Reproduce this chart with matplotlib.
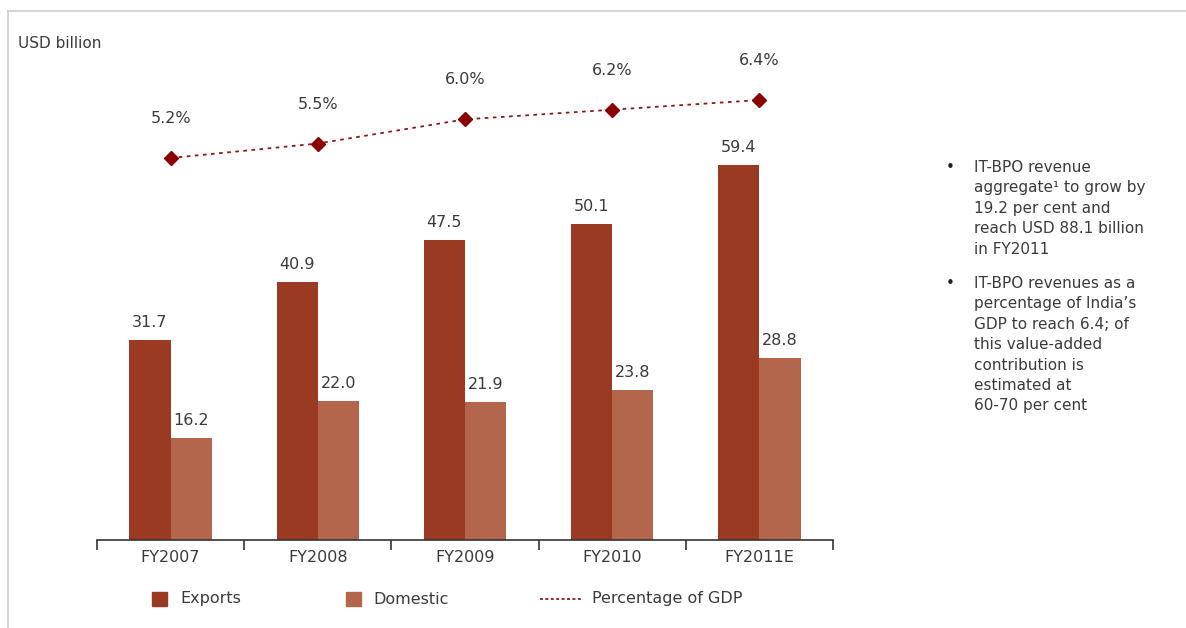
import matplotlib
matplotlib.use('Agg')
import matplotlib.pyplot as plt
from matplotlib.lines import Line2D
from matplotlib.patches import Rectangle
import numpy as np

plt.rcParams['font.family'] = ['DejaVu Sans']

# data
years = ['FY2007', 'FY2008', 'FY2009', 'FY2010', 'FY2011E']
exports = [31.7, 40.9, 47.5, 50.1, 59.4]
domestic = [16.2, 22.0, 21.9, 23.8, 28.8]
gdp_share = [5.2, 5.5, 6.0, 6.2, 6.4]

notes = [
    "IT-BPO revenue\naggregate\u00b9 to grow by\n19.2 per cent and\nreach USD 88.1 billion\nin FY2011",
    "IT-BPO revenues as a\npercentage of India\u2019s\nGDP to reach 6.4; of\nthis value-added\ncontribution is\nestimated at\n60-70 per cent",
]

c_exp = '#9b3a22'
c_dom = '#b3664b'
c_line = '#8b1a1a'
c_text = '#3a3a3a'

W, H = 1186, 628
fig = plt.figure(figsize=(W / 100, H / 100), dpi=100)


def fx(px):
    return px / W


def fy(py):
    return 1 - py / H


# axes placed in pixel terms: left 97, right 833, bottom 540, top 30
x0, x1, yb, yt = 97, 833, 540, 30
ax = fig.add_axes([fx(x0), fy(yb), (x1 - x0) / W, (yb - yt) / H])

x = np.arange(len(years))
bw = 0.28
ax.bar(x - bw / 2, exports, bw, color=c_exp, edgecolor='none')
ax.bar(x + bw / 2, domestic, bw, color=c_dom, edgecolor='none')

for i in range(len(years)):
    ax.text(x[i] - bw / 2, exports[i] + 1.6, f'{exports[i]:.1f}', ha='center',
            va='bottom', fontsize=11.5, color=c_text)
    ax.text(x[i] + bw / 2, domestic[i] + 1.6, f'{domestic[i]:.1f}', ha='center',
            va='bottom', fontsize=11.5, color=c_text)

ax.set_xlim(-0.5, len(years) - 0.5)
ax.set_ylim(0, (yb - yt) / 6.31)
ax.set_yticks([])
ax.set_xticks(np.arange(-0.5, len(years), 1.0))
ax.set_xticklabels([])
ax.set_xticks(x, minor=True)
ax.set_xticklabels(years, minor=True, fontsize=11.5, color=c_text)
ax.tick_params(axis='x', which='major', length=7, width=1.2, color='#333333', direction='out')
ax.tick_params(axis='x', which='minor', length=0, pad=7)
for s in ['top', 'right', 'left']:
    ax.spines[s].set_visible(False)
ax.spines['bottom'].set_color('#333333')
ax.spines['bottom'].set_linewidth(1.2)

# GDP share on a hidden secondary axis
ax2 = ax.twinx()
ppu = 48.3
lo = 5.2 - (yb - 158) / ppu
ax2.set_ylim(lo, lo + (yb - yt) / ppu)
ax2.plot(x, gdp_share, linestyle=(0, (2, 2.5)), color=c_line, linewidth=1.3,
         marker='D', markersize=7, markerfacecolor='#8b0000', markeredgecolor='#8b0000')
for i in range(len(years)):
    ax2.text(x[i], gdp_share[i] + 0.66, f'{gdp_share[i]:.1f}%', ha='center',
             va='bottom', fontsize=11.5, color=c_text)
ax2.set_yticks([])
for s in ax2.spines.values():
    s.set_visible(False)

fig.text(fx(18), fy(43), 'USD billion', fontsize=11, color=c_text, va='center')

# notes on the right
ny = [160, 276]
for t, yy in zip(notes, ny):
    fig.text(fx(946), fy(yy), '\u2022', fontsize=11, color='#222222', va='top')
    fig.text(fx(974), fy(yy), t, fontsize=11, color=c_text, va='top', linespacing=1.45)

# legend, laid out by hand to match the spacing of the original
ly = 599
fig.add_artist(Rectangle((fx(152), fy(ly + 7)), 15 / W, 14 / H, color=c_exp,
                         transform=fig.transFigure))
fig.text(fx(180), fy(ly), 'Exports', fontsize=11.5, color=c_text, va='center')
fig.add_artist(Rectangle((fx(346), fy(ly + 7)), 15 / W, 14 / H, color=c_dom,
                         transform=fig.transFigure))
fig.text(fx(373), fy(ly), 'Domestic', fontsize=11.5, color=c_text, va='center')
fig.add_artist(Line2D([fx(540), fx(581)], [fy(ly), fy(ly)], linestyle=(0, (1.6, 1.4)),
                      color=c_line, linewidth=1.3, transform=fig.transFigure))
fig.text(fx(592), fy(ly), 'Percentage of GDP', fontsize=11.5, color=c_text, va='center')

# light frame around the picture (top and left edges visible)
fig.add_artist(Line2D([fx(8), 1], [fy(11), fy(11)], color='#cccccc', linewidth=1.2,
                      transform=fig.transFigure))
fig.add_artist(Line2D([fx(8), fx(8)], [0, fy(11)], color='#cccccc', linewidth=1.2,
                      transform=fig.transFigure))

fig.savefig('out.png', dpi=100)
